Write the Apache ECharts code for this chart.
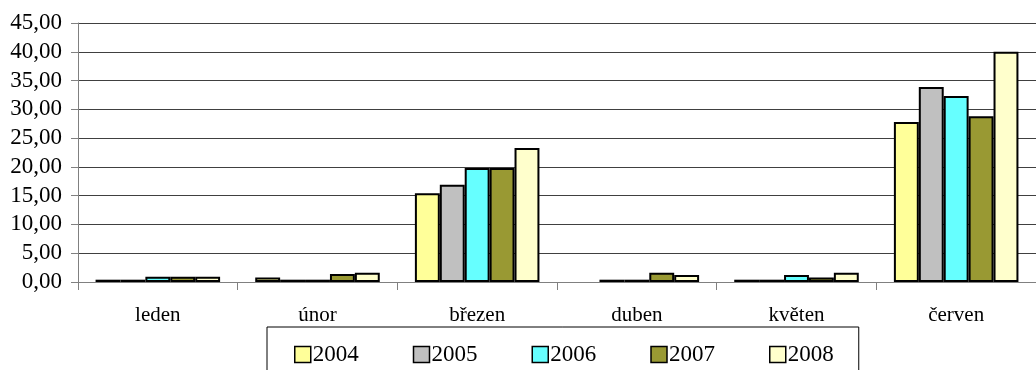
<!DOCTYPE html>
<html>
<head>
<meta charset="utf-8">
<script src="https://cdn.jsdelivr.net/npm/echarts@6/dist/echarts.min.js"></script>
<style>
html,body{margin:0;padding:0;background:#fff;}
#c{width:1036px;height:370px;}
</style>
</head>
<body>
<div id="c"></div>
<script>
var categories = ['leden', 'únor', 'březen', 'duben', 'květen', 'červen'];
var years = ['2004', '2005', '2006', '2007', '2008'];
var s2004 = [0.4, 0.8, 15.4, null, 0.4, 27.8];
var s2005 = [0.4, 0.4, 16.9, 0.4, 0.4, 33.9];
var s2006 = [0.9, 0.4, 19.8, 0.4, 1.2, 32.3];
var s2007 = [0.9, 1.4, 19.8, 1.6, 0.8, 28.8];
var s2008 = [0.9, 1.6, 23.3, 1.2, 1.6, 40.0];
var seriesValues = [s2004, s2005, s2006, s2007, s2008];
var colors = ['#FFFF99', '#C0C0C0', '#66FFFF', '#999933', '#FFFFCC'];

var FONT = '"Liberation Serif", "Times New Roman", serif';
var chart = echarts.init(document.getElementById('c'));
chart.setOption({
  animation: false,
  backgroundColor: '#ffffff',
  textStyle: { fontFamily: FONT },
  grid: { left: 78, top: 23, width: 968, height: 259, containLabel: false },
  xAxis: {
    type: 'category',
    data: categories,
    axisLine: { lineStyle: { color: '#808080', width: 1 } },
    axisTick: { show: true, length: 8, lineStyle: { color: '#808080' } },
    axisLabel: { color: '#000', fontSize: 21, fontFamily: FONT, margin: 23 }
  },
  yAxis: {
    type: 'value',
    min: 0, max: 45, interval: 5,
    axisLine: { show: true, lineStyle: { color: '#808080', width: 1 } },
    axisTick: { show: true, length: 7, lineStyle: { color: '#808080' } },
    axisLabel: {
      color: '#000', fontSize: 23, fontFamily: FONT, margin: 16,
      formatter: function (v) { return v.toFixed(2).replace('.', ','); }
    },
    splitLine: { show: true, lineStyle: { color: '#404040', width: 1 } }
  },
  legend: {
    left: 267, top: 327,
    orient: 'horizontal',
    borderColor: '#000', borderWidth: 1,
    padding: [16, 25, 30, 27],
    itemGap: 54,
    itemWidth: 16, itemHeight: 16,
    icon: 'rect',
    itemStyle: { borderColor: '#000', borderWidth: 1.5 },
    textStyle: { color: '#000', fontSize: 23, fontFamily: FONT, padding: [0, 0, 0, -3] },
    data: years
  },
  series: years.map(function (y, i) {
    return {
      name: y,
      type: 'bar',
      data: seriesValues[i],
      barGap: '0%',
      barCategoryGap: '22%',
      itemStyle: { color: colors[i], borderColor: '#000', borderWidth: 2 }
    };
  })
});
</script>
</body>
</html>
